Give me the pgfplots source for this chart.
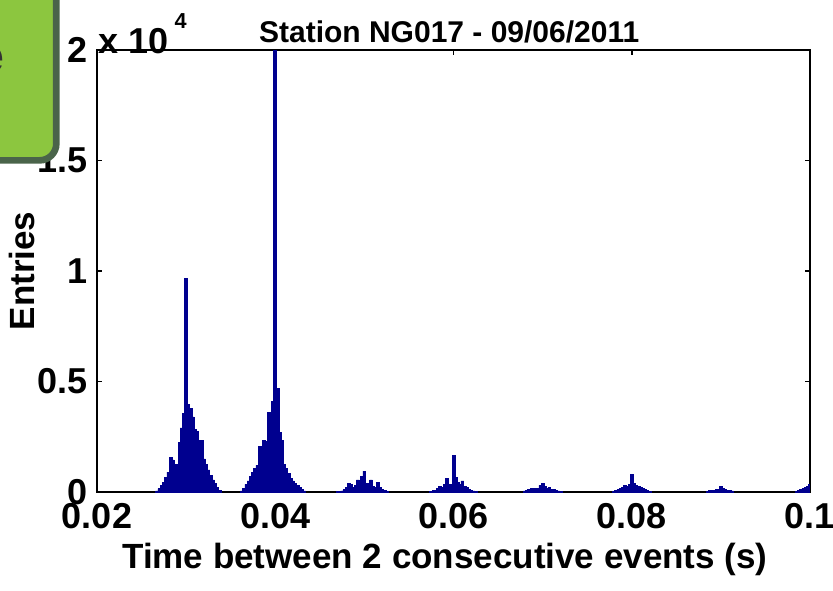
\documentclass[border=0pt]{standalone}
\usepackage{pgfplots}
\usepackage{pgfplotstable}
\pgfplotsset{compat=1.18}
\usepackage{fontspec}
\setmainfont{Liberation Sans}
\definecolor{histblue}{RGB}{0,0,143}
\definecolor{boxgreen}{RGB}{140,198,63}
\definecolor{boxborder}{RGB}{74,100,74}

\pgfplotstableread{
x y
0.02675 50
0.02700 150
0.02725 300
0.02750 450
0.02775 650
0.02800 900
0.02825 1550
0.02850 1450
0.02875 1200
0.02900 1250
0.02925 2250
0.02950 2900
0.02975 3550
0.03000 9680
0.03025 3950
0.03050 3800
0.03075 3400
0.03100 2850
0.03125 2750
0.03150 2350
0.03175 2350
0.03200 1500
0.03225 1250
0.03250 1000
0.03275 750
0.03300 550
0.03325 380
0.03350 200
0.03375 60
0.03625 50
0.03650 150
0.03675 350
0.03700 500
0.03725 700
0.03750 900
0.03775 1050
0.03800 1200
0.03825 2050
0.03850 1500
0.03875 2350
0.03900 2300
0.03925 3600
0.03950 2600
0.03975 4100
0.04000 20000
0.04025 4700
0.04050 2700
0.04075 2350
0.04100 1250
0.04125 1050
0.04150 850
0.04175 600
0.04200 500
0.04225 400
0.04250 300
0.04275 200
0.04300 120
0.04325 50
0.04700 30
0.04725 40
0.04750 50
0.04775 100
0.04800 200
0.04825 400
0.04850 350
0.04875 200
0.04900 300
0.04925 550
0.04950 350
0.04975 700
0.05000 950
0.05025 400
0.05050 350
0.05075 550
0.05100 250
0.05125 200
0.05150 450
0.05175 200
0.05200 100
0.05225 60
0.05250 40
0.05750 40
0.05775 60
0.05800 80
0.05825 150
0.05850 250
0.05875 200
0.05900 350
0.05925 600
0.05950 300
0.05975 350
0.06000 1650
0.06025 650
0.06050 450
0.06075 350
0.06100 500
0.06125 250
0.06150 200
0.06175 100
0.06200 80
0.06225 50
0.06250 30
0.06800 50
0.06825 80
0.06850 120
0.06875 150
0.06900 130
0.06925 180
0.06950 150
0.06975 300
0.07000 380
0.07025 250
0.07050 150
0.07075 200
0.07100 100
0.07125 120
0.07150 80
0.07175 50
0.07200 30
0.07800 40
0.07825 60
0.07850 100
0.07875 150
0.07900 200
0.07925 300
0.07950 250
0.07975 350
0.08000 800
0.08025 400
0.08050 300
0.08075 250
0.08100 200
0.08125 150
0.08150 100
0.08175 60
0.08200 30
0.08850 40
0.08875 60
0.08900 80
0.08925 70
0.08950 100
0.08975 120
0.09000 250
0.09025 150
0.09050 100
0.09075 80
0.09100 70
0.09125 50
0.09850 40
0.09875 60
0.09900 100
0.09925 150
0.09950 200
0.09975 250
0.10000 350
}\histdata

\begin{document}
\begin{tikzpicture}
\useasboundingbox (-29.1pt,-29.7pt) rectangle (220.8pt,147.6pt);
\begin{axis}[
  at={(0,0)}, anchor=south west,
  scale only axis,
  width=213.9pt, height=132.6pt,
  xmin=0.02, xmax=0.1, ymin=0, ymax=20000,
  enlargelimits=false,
  axis line style={black, line width=0.6pt},
  tick align=inside, tick pos=both,
  major tick length=1.5pt,
  tick style={black, line width=0.5pt},
  xtick={0.02,0.04,0.06,0.08,0.1},
  xticklabels={0.02,0.04,0.06,0.08,0.1},
  ytick={0,5000,10000,15000,20000},
  yticklabels={0,0.5,1,1.5,2},
  scaled x ticks=false, scaled y ticks=false,
  /pgf/number format/assume math mode=true,
  ticklabel style={font=\fontsize{10.8}{12}\selectfont\bfseries},
  yticklabel style={inner sep=1pt, xshift=-1.5pt},
  xticklabel style={inner sep=1pt, yshift=-2.2pt},
  every axis title shift=0pt,
  title={Station NG017 - 09/06/2011},
  title style={font=\fontsize{9}{11}\selectfont\bfseries, at={(axis description cs:0.494,1.041)}, anchor=center},
  xlabel={Time between 2 consecutive events (s)},
  xlabel style={font=\fontsize{10.5}{12}\selectfont\bfseries, at={(axis description cs:0.488,-0.152)}, anchor=center},
  ylabel={Entries},
  ylabel style={font=\fontsize{10.5}{12}\selectfont\bfseries, at={(axis description cs:-0.105,0.5)}, anchor=center},
  clip=true,
]
\addplot[ybar, bar width=0.00032, bar shift=0pt, fill=histblue, draw=histblue, line width=0.2pt] table[x=x, y=y] {\histdata};
\end{axis}
\node[anchor=base west, inner sep=0pt, font=\fontsize{10.8}{12}\selectfont\bfseries] at (0.3pt,-0.9pt+132.6pt) {x 10\,\raisebox{7.5pt}{\fontsize{6.5}{7}\selectfont 4}};
\draw[boxborder, line width=2pt, fill=boxgreen, rounded corners=5pt] (-60pt,99.5pt) rectangle (-12.2pt,170pt);
\node[anchor=base east, inner sep=0pt, font=\fontsize{14.5}{16}\selectfont\bfseries, text=black!80] at (-27.6pt,126pt) {e};
\end{tikzpicture}
\end{document}
